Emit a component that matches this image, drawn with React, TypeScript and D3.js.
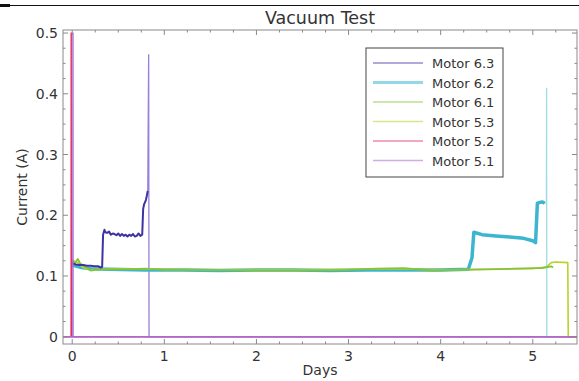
import React from "react";
import * as d3 from "d3";

const W = 579;
const H = 381;

// Motor 6.3 (dark blue) - starts near 0.12, steps up twice
const m63Days = [
  0, 0.04, 0.08, 0.12, 0.16, 0.2, 0.24, 0.28, 0.31, 0.325, 0.335, 0.35, 0.36, 0.38, 0.4, 0.42, 0.44,
  0.46, 0.48, 0.5, 0.52, 0.54, 0.56, 0.58, 0.6, 0.62, 0.64, 0.66, 0.68, 0.7, 0.72, 0.74, 0.76,
  0.77, 0.78, 0.8, 0.81, 0.82,
];
const m63Vals = [
  0.121, 0.119, 0.118, 0.118, 0.117, 0.117, 0.116, 0.116, 0.114, 0.115, 0.168, 0.176, 0.172, 0.171,
  0.173, 0.168, 0.17, 0.169, 0.167, 0.17, 0.166, 0.169, 0.166, 0.168, 0.165, 0.168, 0.166, 0.169,
  0.165, 0.166, 0.17, 0.166, 0.168, 0.21, 0.218, 0.225, 0.232, 0.24,
];
// thin spike and drop-out after the last step
const m63TailDays = [0.82, 0.83, 0.834, 5.48];
const m63TailVals = [0.24, 0.465, 0, 0];

// Motor 6.2 (cyan) - flat near 0.11, steps up late
const m62Days = [
  0, 0.05, 0.1, 0.2, 0.4, 0.8, 1.2, 1.6, 2.0, 2.4, 2.8, 3.2, 3.6, 4.0, 4.3, 4.34, 4.36, 4.45, 4.6,
  4.75, 4.9, 5.0, 5.03, 5.05, 5.1, 5.13,
];
const m62Vals = [
  0.118, 0.116, 0.114, 0.112, 0.111, 0.11, 0.11, 0.109, 0.11, 0.11, 0.109, 0.11, 0.11, 0.11, 0.111,
  0.13, 0.172, 0.168, 0.166, 0.164, 0.162, 0.158, 0.155, 0.22, 0.222, 0.22,
];
const m62TailDays = [5.13, 5.148, 5.15, 5.152, 5.48];
const m62TailVals = [0.22, 0.22, 0.41, 0, 0];

// Motor 6.1 (green)
const m61Days = [
  0, 0.03, 0.06, 0.09, 0.12, 0.16, 0.2, 0.3, 0.5, 0.8, 1.0, 1.5, 2.0, 2.5, 3.0, 3.3, 3.6, 3.9, 4.2,
  4.5, 4.8, 5.0, 5.1, 5.2, 5.22,
];
const m61Vals = [
  0.125, 0.121, 0.128, 0.12, 0.118, 0.113, 0.109, 0.111, 0.111, 0.112, 0.11, 0.11, 0.109, 0.109,
  0.11, 0.112, 0.113, 0.109, 0.11, 0.111, 0.112, 0.113, 0.113, 0.116, 0.114,
];

// Motor 5.3 (yellow-green) - ends high, then drops to zero
const m53Days = [
  0, 0.03, 0.06, 0.1, 0.15, 0.2, 0.3, 0.6, 1.0, 1.5, 2.0, 2.5, 3.0, 3.5, 4.0, 4.5, 5.0, 5.15, 5.2,
  5.25, 5.38, 5.385, 5.48,
];
const m53Vals = [
  0.127, 0.124, 0.122, 0.116, 0.112, 0.11, 0.111, 0.112, 0.111, 0.11, 0.11, 0.11, 0.111, 0.112,
  0.11, 0.111, 0.112, 0.115, 0.122, 0.123, 0.122, 0, 0,
];

// Motor 5.2 (red) - spike at start, then zero
const m52Days = [-0.1, -0.012, -0.011, -0.01, 5.48];
const m52Vals = [0, 0, 0.5, 0, 0];

// Motor 5.1 (purple) - spike at start, then zero
const m51Days = [-0.1, 0.007, 0.008, 0.009, 5.48];
const m51Vals = [0, 0, 0.5, 0, 0];

const seriesNames = ["Motor 6.3", "Motor 6.2", "Motor 6.1", "Motor 5.3", "Motor 5.2", "Motor 5.1"];
const seriesColors = ["#3d33a3", "#3cb6cf", "#86c23a", "#b6d42c", "#e02a5c", "#a86ad6"];
const seriesWidths = [2, 3.5, 1.8, 1.6, 1.4, 1.4];
const seriesDays = [m63Days, m62Days, m61Days, m53Days, m52Days, m51Days];
const seriesVals = [m63Vals, m62Vals, m61Vals, m53Vals, m52Vals, m51Vals];
const drawOrder = [1, 3, 2, 0, 4, 5];

const tailIndex = [0, 1];
const tailColors = ["#9a7fd8", "#9fdbe8"];
const tailDays = [m63TailDays, m62TailDays];
const tailVals = [m63TailVals, m62TailVals];

const xTicks = [0, 1, 2, 3, 4, 5];
const yTicks = [0, 0.1, 0.2, 0.3, 0.4, 0.5];

const margin = { left: 63, right: 2, top: 30, bottom: 37 };

export default function App() {
  const x = d3.scaleLinear().domain([-0.1, 5.48]).range([margin.left, W - margin.right]);
  const y = d3.scaleLinear().domain([-0.012, 0.505]).range([H - margin.bottom, margin.top]);
  const x0 = margin.left;
  const x1 = W - margin.right;
  const y0 = H - margin.bottom;
  const y1 = margin.top;

  const line = d3
    .line<[number, number]>()
    .x((d) => x(d[0]))
    .y((d) => y(d[1]));

  const pts = (ds: number[], vs: number[]) => ds.map((d, k) => [d, vs[k]] as [number, number]);

  const xMinor = d3.range(0, 5.5, 0.25).filter((v) => Math.abs(v - Math.round(v)) > 0.01);
  const yMinor = d3.range(0, 0.5, 0.025).filter((v) => Math.abs(v * 10 - Math.round(v * 10)) > 0.01);

  const font = "DejaVu Sans, sans-serif";
  const axisColor = "#8a8a8a";

  return (
    <svg
      width={W}
      height={H}
      style={{ position: "absolute", left: 0, top: 0, background: "#fff" }}
      fontFamily={font}
    >
      {/* page rule at the top */}
      <line x1={0} x2={W} y1={5.5} y2={5.5} stroke="#111" strokeWidth={1} />
      <rect x={0} y={4} width={10} height={3} fill="#111" />

      <text x={(x0 + x1) / 2} y={24} textAnchor="middle" fontSize={17.5} fill="#333">
        Vacuum Test
      </text>

      <defs>
        <clipPath id="plot">
          <rect x={x0} y={y1} width={x1 - x0} height={y0 - y1} />
        </clipPath>
      </defs>

      <g clipPath="url(#plot)">
        {tailIndex.map((i, k) => (
          <path
            key={"tail" + i}
            d={line(pts(tailDays[k], tailVals[k])) || ""}
            fill="none"
            stroke={tailColors[k]}
            strokeWidth={1.3}
          />
        ))}
        {drawOrder.map((i) => (
          <path
            key={seriesNames[i]}
            d={line(pts(seriesDays[i], seriesVals[i])) || ""}
            fill="none"
            stroke={seriesColors[i]}
            strokeWidth={seriesWidths[i]}
            strokeLinejoin="round"
          />
        ))}
      </g>

      {/* frame */}
      <rect x={x0} y={y1} width={x1 - x0} height={y0 - y1} fill="none" stroke={axisColor} strokeWidth={1} />

      {/* x ticks */}
      {xTicks.map((t) => (
        <g key={"xt" + t}>
          <line x1={x(t)} x2={x(t)} y1={y0} y2={y0 - 5} stroke={axisColor} />
          <line x1={x(t)} x2={x(t)} y1={y1} y2={y1 + 5} stroke={axisColor} />
          <text x={x(t)} y={y0 + 17} textAnchor="middle" fontSize={14} fill="#333">
            {t}
          </text>
        </g>
      ))}
      {xMinor.map((t) => (
        <g key={"xm" + t}>
          <line x1={x(t)} x2={x(t)} y1={y0} y2={y0 - 2.5} stroke={axisColor} />
          <line x1={x(t)} x2={x(t)} y1={y1} y2={y1 + 2.5} stroke={axisColor} />
        </g>
      ))}

      {/* y ticks */}
      {yTicks.map((t) => (
        <g key={"yt" + t}>
          <line x1={x0} x2={x0 + 5} y1={y(t)} y2={y(t)} stroke={axisColor} />
          <line x1={x1} x2={x1 - 5} y1={y(t)} y2={y(t)} stroke={axisColor} />
          <text x={x0 - 5} y={y(t) + 5} textAnchor="end" fontSize={14} fill="#333">
            {t === 0 ? "0" : d3.format(".1f")(t)}
          </text>
        </g>
      ))}
      {yMinor.map((t) => (
        <g key={"ym" + t}>
          <line x1={x0} x2={x0 + 2.5} y1={y(t)} y2={y(t)} stroke={axisColor} />
          <line x1={x1} x2={x1 - 2.5} y1={y(t)} y2={y(t)} stroke={axisColor} />
        </g>
      ))}

      <text x={(x0 + x1) / 2} y={375} textAnchor="middle" fontSize={14} fill="#333">
        Days
      </text>
      <text
        transform={`translate(27,${(y0 + y1) / 2}) rotate(-90)`}
        textAnchor="middle"
        fontSize={14}
        fill="#333"
      >
        Current (A)
      </text>

      {/* legend */}
      <g>
        <rect x={366} y={48} width={137} height={129} fill="#fff" stroke="#444" strokeWidth={1} />
        {seriesNames.map((name, i) => {
          const ly = 63 + i * 19.5;
          return (
            <g key={name}>
              <line
                x1={373}
                x2={423}
                y1={ly}
                y2={ly}
                stroke={seriesColors[i]}
                strokeOpacity={0.55}
                strokeWidth={i === 1 ? 3 : 1.5}
              />
              <text x={432} y={ly + 5} fontSize={13} fill="#333">
                {name}
              </text>
            </g>
          );
        })}
      </g>
    </svg>
  );
}
